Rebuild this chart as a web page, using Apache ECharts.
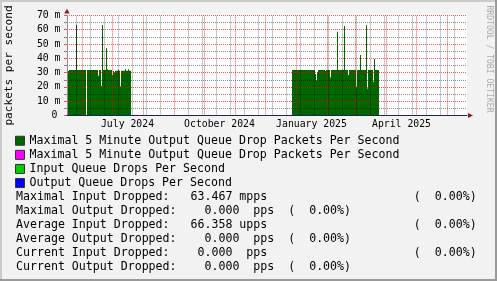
<!DOCTYPE html>
<html><head><meta charset="utf-8">
<script src="https://cdn.jsdelivr.net/npm/echarts@6/dist/echarts.min.js"></script>
<style>html,body{margin:0;padding:0;background:#f2f2f2}#c{width:497px;height:281px}</style>
</head><body><div id="c"></div>
<script>
const DAY = 86400000;
const MONO = 'DejaVu Sans Mono';

// time window (value axis in ms)
const AXIS_START = Date.UTC(2024, 4, 16, 12);
const AXIS_DAYS = 400;

// y axis (milli packets per second)
const Y_MIN = 0, Y_MAX = 70, Y_STEP = 10;
const UNIT_LABEL = 'packets per second';

// x tick labels (centred in their month, as rrdtool does)
const X_LABELS = ['July 2024', 'October 2024', 'January 2025', 'April 2025'];
const X_LABEL_TIMES = [Date.UTC(2024, 6, 16), Date.UTC(2024, 9, 16), Date.UTC(2025, 0, 16), Date.UTC(2025, 3, 16)];

// legend / series
const SERIES_NAMES = [
  'Maximal 5 Minute Output Queue Drop Packets Per Second',
  'Maximal 5 Minute Output Queue Drop Packets Per Second ',
  'Input Queue Drops Per Second',
  'Output Queue Drops Per Second'
];
const SERIES_COLORS = ['#006600', '#ff00ff', '#00cc00', '#0000ff'];

// daily values (m = 1e-3 packets per second)
const BLOCK1_START = Date.UTC(2024, 4, 16, 12);
const BLOCK1_VALUES = [
  31.1, 31.1, 31.8, 31.8, 31.8, 31.8, 31.8, 31.8, 31.8, 63.467,
  31.8, 31.8, 31.8, 31.8, 31.8, 31.8, 31.8, 31.8, 31.8, 0,
  31.8, 31.8, 31.8, 31.8, 31.8, 31.8, 31.8, 31.8, 31.8, 31.8,
  31.8, 27.8, 31.8, 31.8, 20.6, 63.2, 31.8, 31.8, 31.8, 47.0,
  32.4, 31.8, 31.8, 31.8, 31.8, 28.3, 31.3, 30.2, 31.3, 31.3,
  31.3, 32.0, 31.3, 20.5, 31.3, 31.3, 31.3, 31.3, 32.3, 31.3,
  31.3, 32.3, 31.3, 31.3
];
const BLOCK2_START = Date.UTC(2024, 11, 27, 12);
const BLOCK2_VALUES = [
  31.8, 31.8, 31.8, 31.8, 31.8, 31.8, 31.8, 31.8, 31.8, 31.8,
  31.8, 31.8, 31.8, 31.8, 31.8, 31.8, 31.8, 31.8, 31.8, 31.8,
  31.8, 31.8, 31.8, 29.0, 24.6, 30.2, 31.8, 31.8, 31.8, 31.8,
  31.8, 31.8, 31.8, 31.1, 31.8, 31.8, 31.8, 31.8, 26.6, 31.8,
  31.8, 31.8, 31.8, 31.8, 31.8, 58.5, 31.8, 31.8, 31.8, 31.8,
  31.8, 31.8, 62.5, 31.8, 31.8, 31.8, 28.3, 31.8, 31.8, 31.8,
  31.8, 31.8, 31.8, 31.8, 20.2, 31.8, 31.8, 31.8, 42.3, 31.8,
  31.8, 31.8, 31.8, 31.8, 63.0, 19.0, 31.8, 31.8, 31.8, 31.8,
  31.8, 23.7, 39.5, 31.8, 31.8, 31.8, 31.8
];

// legend statistics lines
const STAT_LINES = [
  'Maximal Input Dropped:   63.467 mpps                     (  0.00%)',
  'Maximal Output Dropped:    0.000  pps  (  0.00%)',
  'Average Input Dropped:   66.358 upps                     (  0.00%)',
  'Average Output Dropped:    0.000  pps  (  0.00%)',
  'Current Input Dropped:    0.000  pps                     (  0.00%)',
  'Current Output Dropped:    0.000  pps  (  0.00%)'
];
const WATERMARK = 'RRDTOOL / TOBI OETIKER';

// ---------------------------------------------------------------
const AXIS_END = AXIS_START + AXIS_DAYS * DAY;
// [day start, value]; each value covers its own day
function blockPoints(start, vals) {
  return vals.map((v, i) => [start + i * DAY, v]);
}
const mainData = blockPoints(BLOCK1_START, BLOCK1_VALUES).concat(blockPoints(BLOCK2_START, BLOCK2_VALUES));

// grid lines: red at month starts, grey every two weeks
const RED = 'rgba(255,0,0,0.68)';
const GREY = 'rgba(0,0,0,0.45)';
const monthStarts = [];
for (let k = 0; k < 14; k++) {
  const t = Date.UTC(2024, 5 + k, 1);
  if (t > AXIS_START && t < AXIS_END) monthStarts.push(t);
}
const minorLines = [];
for (let t = Date.UTC(2024, 4, 26); t < AXIS_END; t += 14 * DAY) {
  if (t > AXIS_START && monthStarts.indexOf(t) < 0) minorLines.push(t);
}
const markData = minorLines.map(t => ({ xAxis: t, lineStyle: { color: GREY, type: [1, 1], width: 1 } }))
  .concat(monthStarts.map(t => ({ xAxis: t, lineStyle: { color: RED, type: [1, 1], width: 1 } })));

const G = { left: 67, top: 15.3, width: 400, height: 100.3 };

function renderDay(params, api) {
  const top = api.coord([api.value(0), api.value(1)]);
  const base = api.coord([api.value(0) + DAY, 0]);
  return {
    type: 'rect',
    shape: { x: top[0], y: top[1], width: base[0] - top[0], height: base[1] - top[1] },
    style: { fill: SERIES_COLORS[0] }
  };
}

const chart = echarts.init(document.getElementById('c'), null, { renderer: 'canvas' });
const option = {
  animation: false,
  backgroundColor: '#f2f2f2',
  grid: { left: G.left, top: G.top, width: G.width, height: G.height, show: true, backgroundColor: '#ffffff', borderWidth: 0, containLabel: false, outerBoundsMode: 'none' },
  xAxis: {
    type: 'value', min: AXIS_START, max: AXIS_END, z: 5,
    axisLine: { show: true, lineStyle: { color: '#202066', width: 1 } },
    axisTick: { show: false },
    splitLine: { show: false },
    axisLabel: {
      customValues: X_LABEL_TIMES,
      formatter: v => { const i = X_LABEL_TIMES.indexOf(v); return i >= 0 ? X_LABELS[i] : ''; },
      fontFamily: MONO, fontSize: 9.8, color: '#000', margin: 4
    }
  },
  yAxis: {
    type: 'value', min: Y_MIN, max: Y_MAX, interval: Y_STEP, z: 4,
    name: UNIT_LABEL, nameLocation: 'middle', nameRotate: 90, nameGap: 52,
    nameTextStyle: { fontFamily: MONO, fontSize: 11.1, color: '#000' },
    axisLine: { show: true, lineStyle: { color: '#8c8c8c' } },
    axisTick: { show: true, length: 3, lineStyle: { color: RED } },
    minorTick: { show: true, splitNumber: 2, length: 3, lineStyle: { color: GREY } },
    splitLine: { show: true, lineStyle: { color: RED, type: [1, 1], width: 1 } },
    minorSplitLine: { show: true, lineStyle: { color: GREY, type: [1, 1], width: 1 } },
    axisLabel: {
      fontFamily: MONO, fontSize: 9.8, color: '#000', margin: 6.5,
      formatter: v => v === 0 ? '{z|0}' : v + ' m',
      rich: { z: { fontFamily: MONO, fontSize: 9.8, color: '#000', padding: [0, 3, 0, 0] } }
    }
  },
  legend: {
    orient: 'vertical', left: 15, top: 133.7, padding: 0, itemGap: 0,
    itemWidth: 9, itemHeight: 9, icon: 'rect', selectedMode: false,
    data: SERIES_NAMES,
    itemStyle: { borderColor: '#333', borderWidth: 1 },
    formatter: n => n.trim(),
    textStyle: { fontFamily: MONO, fontSize: 11.6, color: '#000', lineHeight: 14.1 }
  },
  series: [
    {
      name: SERIES_NAMES[0], type: 'custom', data: mainData, renderItem: renderDay,
      encode: { x: 0, y: 1 }, z: 2, clip: true,
      itemStyle: { color: SERIES_COLORS[0] },
      markLine: { silent: true, symbol: ['none', 'none'], label: { show: false }, animation: false, data: markData }
    },
    { name: SERIES_NAMES[1], type: 'line', data: [], color: SERIES_COLORS[1], itemStyle: { color: SERIES_COLORS[1] } },
    { name: SERIES_NAMES[2], type: 'line', data: [], color: SERIES_COLORS[2], itemStyle: { color: SERIES_COLORS[2] } },
    { name: SERIES_NAMES[3], type: 'line', data: [], color: SERIES_COLORS[3], itemStyle: { color: SERIES_COLORS[3] } }
  ],
  graphic: [
    { type: 'rect', z: -10, shape: { x: G.left, y: G.top - 2.3, width: G.width, height: 2.3 }, style: { fill: '#ffffff' } },
    { type: 'polygon', z: 10, shape: { points: [[G.left - 2.7, G.top - 1.8], [G.left + 2.7, G.top - 1.8], [G.left, G.top - 6.5]] }, style: { fill: '#7f1f1f' } },
    { type: 'polygon', z: 10, shape: { points: [[G.left + G.width + 1, G.top + G.height - 2.5], [G.left + G.width + 1, G.top + G.height + 2.5], [G.left + G.width + 6, G.top + G.height]] }, style: { fill: '#7f1f1f' } },
    { type: 'text', z: 10, x: 489.5, y: 59, rotation: -Math.PI / 2,
      style: { text: WATERMARK, align: 'center', verticalAlign: 'middle', fill: '#aaaaaa', font: '8.1px "DejaVu Sans Mono"' } },
    { type: 'text', z: 10, x: 16, y: 189.6,
      style: { text: STAT_LINES.join('\n'), align: 'left', verticalAlign: 'top', fill: '#000', font: '11.6px "DejaVu Sans Mono"', lineHeight: 14.1 } },
    { type: 'polyline', z: 20, shape: { points: [[1, 281], [1, 1], [497, 1]] }, style: { stroke: '#cbcbcb', lineWidth: 2, fill: null } },
    { type: 'polyline', z: 20, shape: { points: [[0, 280], [496, 280], [496, 0]] }, style: { stroke: '#999999', lineWidth: 2, fill: null } }
  ]
};
chart.setOption(option);
</script></body></html>
